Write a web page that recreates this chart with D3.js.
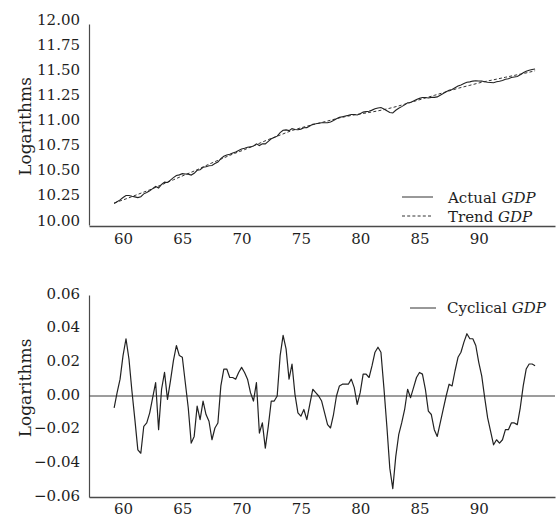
<!DOCTYPE html>
<html>
<head>
<meta charset="utf-8">
<script src="https://cdn.jsdelivr.net/npm/d3@7"></script>
<style>
  html, body { margin: 0; padding: 0; background: #fff; }
  svg { display: block; }
  text { font-family: "DejaVu Serif", "Liberation Serif", serif; fill: #1e1e1e; }
</style>
</head>
<body>
<svg id="chart" width="559" height="519"></svg>
<script>
// ---------------- DATA ----------------
// Quarterly observations, first quarter plotted at 1959.25, step of one quarter
const firstQuarter = 1959.25;
const quarterStep = 0.25;

const actualGDP = [
  10.213, 10.232, 10.250, 10.274, 10.294, 10.293, 10.286, 10.280,
  10.273, 10.282, 10.310, 10.323, 10.340, 10.362, 10.383, 10.368,
  10.404, 10.427, 10.423, 10.447, 10.471, 10.493, 10.499, 10.511,
  10.508, 10.506, 10.497, 10.514, 10.544, 10.550, 10.575, 10.580,
  10.590, 10.592, 10.611, 10.627, 10.661, 10.684, 10.696, 10.704,
  10.716, 10.726, 10.742, 10.756, 10.764, 10.773, 10.777, 10.785,
  10.808, 10.791, 10.809, 10.807, 10.832, 10.858, 10.870, 10.884,
  10.919, 10.942, 10.946, 10.939, 10.959, 10.950, 10.948, 10.954,
  10.967, 10.969, 10.985, 11.002, 11.007, 11.013, 11.017, 11.018,
  11.018, 11.024, 11.039, 11.058, 11.071, 11.078, 11.085, 11.091,
  11.100, 11.100, 11.095, 11.107, 11.123, 11.128, 11.131, 11.143,
  11.156, 11.165, 11.169, 11.154, 11.137, 11.120, 11.115, 11.142,
  11.162, 11.178, 11.195, 11.215, 11.219, 11.234, 11.249, 11.260,
  11.268, 11.268, 11.264, 11.270, 11.270, 11.275, 11.292, 11.308,
  11.325, 11.341, 11.349, 11.366, 11.383, 11.394, 11.407, 11.420,
  11.424, 11.432, 11.435, 11.433, 11.432, 11.425, 11.420, 11.418,
  11.416, 11.425, 11.430, 11.438, 11.450, 11.456, 11.467, 11.473,
  11.478, 11.494, 11.514, 11.530, 11.539, 11.547, 11.553
];

// Trend GDP read once a year (plus the last quarter)
const trendYears = [
  1959.25, 1960.25, 1961.25, 1962.25, 1963.25, 1964.25, 1965.25, 1966.25,
  1967.25, 1968.25, 1969.25, 1970.25, 1971.25, 1972.25, 1973.25, 1974.25,
  1975.25, 1976.25, 1977.25, 1978.25, 1979.25, 1980.25, 1981.25, 1982.25,
  1983.25, 1984.25, 1985.25, 1986.25, 1987.25, 1988.25, 1989.25, 1990.25,
  1991.25, 1992.25, 1993.25, 1994.25, 1994.75
];
const trendGDP = [
  10.220, 10.260, 10.305, 10.350, 10.400, 10.450, 10.500, 10.550,
  10.605, 10.655, 10.705, 10.750, 10.800, 10.850, 10.895, 10.940,
  10.975, 11.005, 11.035, 11.065, 11.090, 11.110, 11.130, 11.155,
  11.185, 11.220, 11.255, 11.290, 11.325, 11.360, 11.390, 11.420,
  11.445, 11.470, 11.495, 11.520, 11.535
];

const cyclicalGDP = [
  -0.007, 0.002, 0.010, 0.024, 0.034, 0.022, 0.003, -0.014,
  -0.032, -0.034, -0.018, -0.016, -0.010, -0.001, 0.008, -0.020,
  0.004, 0.014, -0.002, 0.009, 0.021, 0.030, 0.024, 0.023,
  0.008, -0.007, -0.028, -0.024, -0.006, -0.014, -0.003, -0.011,
  -0.015, -0.026, -0.019, -0.016, 0.006, 0.016, 0.016, 0.011,
  0.011, 0.010, 0.014, 0.017, 0.014, 0.010, 0.002, -0.003,
  0.008, -0.022, -0.016, -0.031, -0.018, -0.003, -0.003, 0.000,
  0.024, 0.036, 0.028, 0.010, 0.019, 0.001, -0.010, -0.012,
  -0.008, -0.014, -0.005, 0.004, 0.002, 0.000, -0.003, -0.010,
  -0.017, -0.019, -0.011, 0.000, 0.006, 0.007, 0.007, 0.007,
  0.010, 0.005, -0.005, 0.002, 0.013, 0.013, 0.011, 0.018,
  0.026, 0.029, 0.026, 0.005, -0.018, -0.043, -0.055, -0.036,
  -0.023, -0.016, -0.008, 0.004, -0.001, 0.005, 0.011, 0.014,
  0.013, 0.004, -0.009, -0.011, -0.020, -0.024, -0.016, -0.008,
  0.000, 0.007, 0.006, 0.015, 0.023, 0.026, 0.032, 0.037,
  0.034, 0.034, 0.030, 0.020, 0.012, -0.001, -0.013, -0.021,
  -0.029, -0.026, -0.028, -0.026, -0.020, -0.020, -0.016, -0.016,
  -0.017, -0.007, 0.006, 0.016, 0.019, 0.019, 0.018
];

const xTickYears = [1960, 1965, 1970, 1975, 1980, 1985, 1990];
const xTickLabels = ["60", "65", "70", "75", "80", "85", "90"];
const topTicks = [10.00, 10.25, 10.50, 10.75, 11.00, 11.25, 11.50, 11.75, 12.00];
const bottomTicks = [-0.06, -0.04, -0.02, 0.00, 0.02, 0.04, 0.06];
const yTitle = "Logarithms";
const legendTop = [
  { name: "Actual ", it: "GDP", dash: null },
  { name: "Trend ", it: "GDP", dash: "3,2.2" }
];
const legendBottom = { name: "Cyclical ", it: "GDP" };

// ---------------- LAYOUT ----------------
const svg = d3.select("#chart");
const quarters = actualGDP.map((_, i) => firstQuarter + i * quarterStep);

const x = d3.scaleLinear().domain([1957.13, 1996.43]).range([89, 555]);
const yTop = d3.scaleLinear().domain([10, 12]).range([225, 24]);
const yBot = d3.scaleLinear().domain([-0.06, 0.06]).range([497, 295]);

const axisColor = "#4a4a4a";
const fontSize = 15;

function drawXAxis(yPos, labelOffset) {
  const g = svg.append("g").attr("transform", `translate(0,${yPos})`)
    .call(d3.axisBottom(x).tickValues(xTickYears).tickSize(0)
      .tickFormat((d, i) => xTickLabels[i]));
  g.select(".domain").attr("stroke", axisColor).attr("stroke-width", 1.6);
  g.selectAll("text").attr("y", labelOffset).attr("dy", 0)
    .style("font-size", fontSize + "px").style("font-family", '"DejaVu Serif", serif').attr("fill", "#1e1e1e");
}

function drawYAxis(scale, ticks, fmt, dy) {
  const g = svg.append("g").attr("transform", `translate(89,0)`)
    .call(d3.axisLeft(scale).tickValues(ticks).tickSize(0).tickPadding(9).tickFormat(fmt));
  g.select(".domain").attr("stroke", axisColor).attr("stroke-width", 1.2);
  g.selectAll("text").attr("dy", dy)
    .style("font-size", fontSize + "px").style("font-family", '"DejaVu Serif", serif').attr("fill", "#1e1e1e");
}

// ---------- Top panel ----------
drawYAxis(yTop, topTicks, d3.format(".2f"), "0px");
drawXAxis(226, 18);

svg.append("text")
  .attr("transform", `translate(31,${(yTop.range()[0] + yTop.range()[1]) / 2 + 2}) rotate(-90)`)
  .attr("text-anchor", "middle")
  .style("font-size", "17px")
  .text(yTitle);

const lineTrend = d3.line().x((d, i) => x(trendYears[i])).y(d => yTop(d)).curve(d3.curveMonotoneX);
const lineActual = d3.line().x((d, i) => x(quarters[i])).y(d => yTop(d));

svg.append("path").datum(trendGDP)
  .attr("d", lineTrend).attr("fill", "none")
  .attr("stroke", "#333").attr("stroke-width", 1).attr("stroke-dasharray", "3,2.2");
svg.append("path").datum(actualGDP)
  .attr("d", lineActual).attr("fill", "none")
  .attr("stroke", "#222").attr("stroke-width", 1.1);

// top legend
legendTop.forEach((l, k) => {
  const yy = 197 + k * 19;
  svg.append("line").attr("x1", 402).attr("x2", 433).attr("y1", yy).attr("y2", yy)
    .attr("stroke", "#333").attr("stroke-width", 1)
    .attr("stroke-dasharray", l.dash);
  const t = svg.append("text").attr("x", 448).attr("y", yy + 6).style("font-size", fontSize + "px");
  t.append("tspan").text(l.name);
  t.append("tspan").style("font-style", "italic").text(l.it);
});

// ---------- Bottom panel ----------
drawYAxis(yBot, bottomTicks, d3.format(".2f"), "3px");
drawXAxis(497, 17);

svg.append("text")
  .attr("transform", `translate(31,${(yBot.range()[0] + yBot.range()[1]) / 2 - 8}) rotate(-90)`)
  .attr("text-anchor", "middle")
  .style("font-size", "17px")
  .text(yTitle);

// zero line
svg.append("line")
  .attr("x1", x.range()[0]).attr("x2", x.range()[1])
  .attr("y1", yBot(0)).attr("y2", yBot(0))
  .attr("stroke", "#3a3a3a").attr("stroke-width", 1);

const lineCyc = d3.line().x((d, i) => x(quarters[i])).y(d => yBot(d));
svg.append("path").datum(cyclicalGDP)
  .attr("d", lineCyc).attr("fill", "none")
  .attr("stroke", "#222").attr("stroke-width", 1.2).attr("stroke-linejoin", "round");

// bottom legend
svg.append("line").attr("x1", 410).attr("x2", 436).attr("y1", 308).attr("y2", 308)
  .attr("stroke", "#333").attr("stroke-width", 1);
const tb = svg.append("text").attr("x", 447).attr("y", 313).style("font-size", fontSize + "px");
tb.append("tspan").text(legendBottom.name);
tb.append("tspan").style("font-style", "italic").text(legendBottom.it);
</script>
</body>
</html>
